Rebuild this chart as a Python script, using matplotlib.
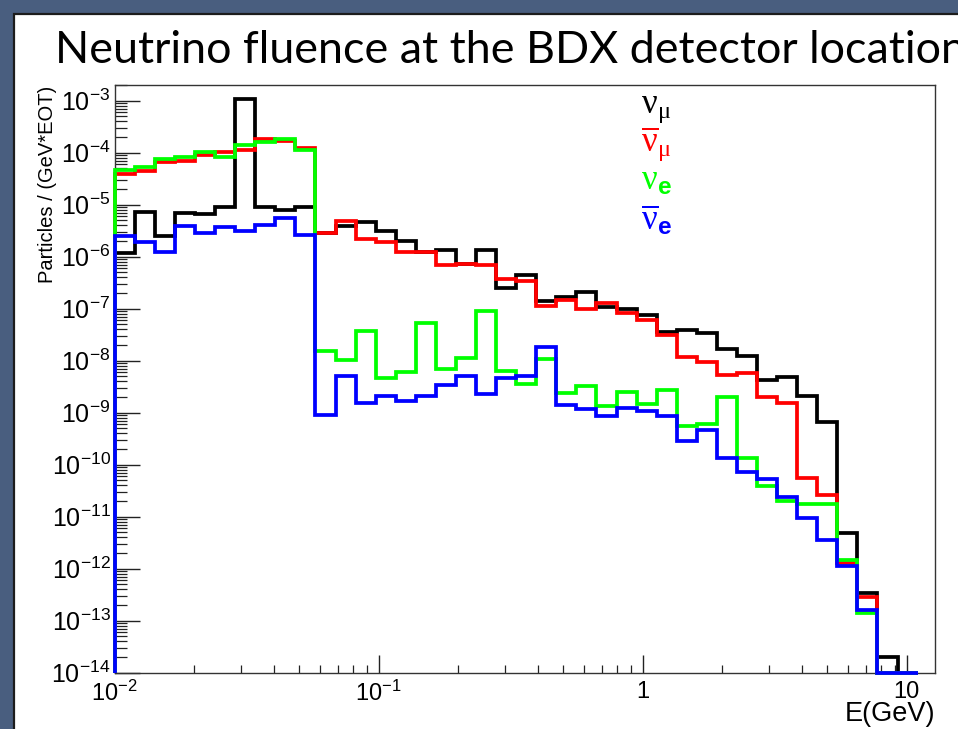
import numpy as np
import matplotlib
matplotlib.use("Agg")
import matplotlib.pyplot as plt
from matplotlib.patches import Rectangle
from matplotlib.ticker import LogLocator, FixedLocator, FuncFormatter, NullFormatter

plt.rcParams["font.family"] = ["Liberation Sans", "DejaVu Sans"]
plt.rcParams["mathtext.fontset"] = "custom"
plt.rcParams["mathtext.rm"] = "Liberation Serif"
plt.rcParams["mathtext.it"] = "Liberation Serif:italic"
plt.rcParams["mathtext.bf"] = "Liberation Sans:bold"
plt.rcParams["mathtext.sf"] = "Liberation Sans"

# Energy binning: 40 log-spaced bins from 10 MeV to 11 GeV
E_MIN, E_MAX, N_BINS = 0.01, 11.0, 40
bin_edges = np.logspace(np.log10(E_MIN), np.log10(E_MAX), N_BINS + 1)

# Fluence per bin, particles / (GeV * EOT)
numu = [1.16e-6, 7.33e-6, 2.50e-6, 7.01e-6, 6.53e-6, 8.91e-6, 1.08e-3, 9.16e-6,
        7.91e-6, 9.16e-6, 2.90e-6, 3.94e-6, 4.59e-6, 3.12e-6, 2.00e-6, 1.25e-6,
        1.35e-6, 7.24e-7, 1.35e-6, 2.47e-7, 4.45e-7, 1.43e-7, 1.66e-7, 2.12e-7,
        1.08e-7, 9.72e-8, 7.40e-8, 3.61e-8, 3.89e-8, 3.37e-8, 1.68e-8, 1.25e-8,
        4.26e-9, 4.80e-9, 2.12e-9, 6.71e-10, 4.92e-12, 3.37e-13, 2.03e-14, 0.0]
numubar = [3.89e-5, 4.51e-5, 6.71e-5, 7.01e-5, 9.04e-5, 1.04e-4, 1.13e-4, 1.81e-4,
           1.68e-4, 1.22e-4, 2.90e-6, 4.92e-6, 2.16e-6, 1.94e-6, 1.25e-6, 1.25e-6,
           6.92e-7, 7.24e-7, 6.92e-7, 3.67e-7, 3.41e-7, 1.13e-7, 1.47e-7, 9.72e-8,
           1.30e-7, 8.17e-8, 6.07e-8, 3.12e-8, 1.16e-8, 9.57e-9, 5.31e-9, 5.87e-9,
           2.03e-9, 1.52e-9, 5.47e-11, 2.61e-11, 1.27e-12, 2.82e-13, 0.0, 0.0]
nue = [4.65e-5, 5.24e-5, 7.57e-5, 8.17e-5, 1.02e-4, 8.38e-5, 1.41e-4, 1.63e-4,
       1.81e-4, 1.13e-4, 1.56e-8, 1.03e-8, 3.78e-8, 4.59e-9, 6.14e-9, 5.24e-8,
       6.84e-9, 1.14e-8, 9.16e-8, 6.43e-9, 3.56e-9, 1.08e-8, 2.36e-9, 3.26e-9,
       1.33e-9, 2.54e-9, 1.47e-9, 2.74e-9, 5.62e-10, 6.07e-10, 2.03e-9, 1.33e-10,
       3.89e-11, 2.03e-11, 1.75e-11, 1.75e-11, 1.47e-12, 1.43e-13, 0.0, 0.0]
nuebar = [2.50e-6, 1.94e-6, 1.25e-6, 3.89e-6, 2.90e-6, 3.78e-6, 3.16e-6, 4.07e-6,
          5.62e-6, 2.61e-6, 9.04e-10, 5.08e-9, 1.52e-9, 2.12e-9, 1.70e-9, 2.12e-9,
          3.41e-9, 5.08e-9, 2.26e-9, 4.59e-9, 5.08e-9, 1.81e-8, 1.41e-9, 1.16e-9,
          8.75e-10, 1.22e-9, 1.09e-9, 8.75e-10, 2.90e-10, 4.65e-10, 1.33e-10, 7.33e-11,
          5.24e-11, 2.36e-11, 9.31e-12, 3.56e-12, 1.13e-12, 1.61e-13, 0.0, 0.0]

series = [
    (numu, "black", r"$\mathrm{\nu}_{\mathrm{\mu}}$"),
    (numubar, "#ff0000", r"$\overline{\mathrm{\nu}}_{\mathrm{\mu}}$"),
    (nue, "#00ff00", r"$\mathrm{\nu}_{\mathbf{e}}$"),
    (nuebar, "#0000ff", r"$\overline{\mathrm{\nu}}_{\mathbf{e}}$"),
]

Y_MIN, Y_MAX = 1e-14, 2.0e-3
X_MIN, X_MAX = 0.01, 12.8
y_decades = [10.0 ** e for e in range(-14, -2)]

W_PX, H_PX = 958, 729
fig = plt.figure(figsize=(W_PX / 100, H_PX / 100), dpi=100)
fig.patch.set_facecolor("#495e7f")

# white slide panel
fig.add_artist(Rectangle((14 / W_PX, -0.02), 1.05, 1 - 14 / H_PX + 0.02,
                         transform=fig.transFigure, facecolor="white",
                         edgecolor="#1c1c1c", lw=1.6, zorder=-1))

left, right, top, bottom = 114.7, 935.0, 85.0, 672.7
ax = fig.add_axes([left / W_PX, 1 - bottom / H_PX,
                   (right - left) / W_PX, (bottom - top) / H_PX])
ax.set_xscale("log")
ax.set_yscale("log")
ax.set_xlim(X_MIN, X_MAX)
ax.set_ylim(Y_MIN, Y_MAX)

for vals, color, _ in series:
    v = np.clip(np.asarray(vals, dtype=float), Y_MIN, None)
    sp = ax.stairs(v, bin_edges, baseline=Y_MIN, color=color, lw=2.7,
                   clip_on=False, zorder=3)
    sp.set_joinstyle("miter")
    sp.set_capstyle("butt")

for s in ax.spines.values():
    s.set_linewidth(1.0)
    s.set_color("#333333")


def pow_label(v, pos):
    e = int(round(np.log10(v)))
    if e == 0:
        return "1"
    if e == 1:
        return "10"
    return r"$\mathregular{10^{%d}}$" % e


ax.yaxis.set_major_locator(FixedLocator(y_decades))
ax.yaxis.set_minor_locator(LogLocator(base=10, subs=np.arange(2, 10), numticks=30))
ax.yaxis.set_major_formatter(FuncFormatter(pow_label))
ax.yaxis.set_minor_formatter(NullFormatter())
ax.xaxis.set_major_locator(FixedLocator([0.01, 0.1, 1.0, 10.0]))
ax.xaxis.set_minor_locator(LogLocator(base=10, subs=np.arange(2, 10), numticks=10))
ax.xaxis.set_major_formatter(FuncFormatter(pow_label))
ax.xaxis.set_minor_formatter(NullFormatter())

ax.tick_params(axis="y", which="major", direction="in", length=18, width=1.0,
               labelsize=18, pad=3, right=False, color="#222222")
ax.tick_params(axis="y", which="minor", direction="in", length=8.5, width=0.9,
               right=False, color="#222222")
ax.tick_params(axis="x", which="major", direction="in", length=13, width=1.0,
               labelsize=17, pad=6, top=False, color="#222222")
ax.tick_params(axis="x", which="minor", direction="in", length=6, width=0.9,
               top=False, color="#222222")


def fx(px):
    return px / W_PX


def fy(py):
    return 1 - py / H_PX


fig.text(fx(55), fy(63), "Neutrino fluence at the BDX detector location",
         family=["Lato", "DejaVu Sans"], fontsize=32.3, color="black",
         ha="left", va="baseline")

fig.text(fx(48), fy(86), "Particles / (GeV*EOT)", rotation=90,
         fontsize=14.5, ha="center", va="top")
fig.text(fx(935), fy(714), "E(GeV)", fontsize=19.5, ha="right", va="center")

legend_baselines = [113, 152, 190, 230]
for (vals, color, label), yb in zip(series, legend_baselines):
    fig.text(fx(641), fy(yb), label, color=color, fontsize=25,
             ha="left", va="baseline")

fig.savefig("out.png", dpi=100, facecolor=fig.get_facecolor())
